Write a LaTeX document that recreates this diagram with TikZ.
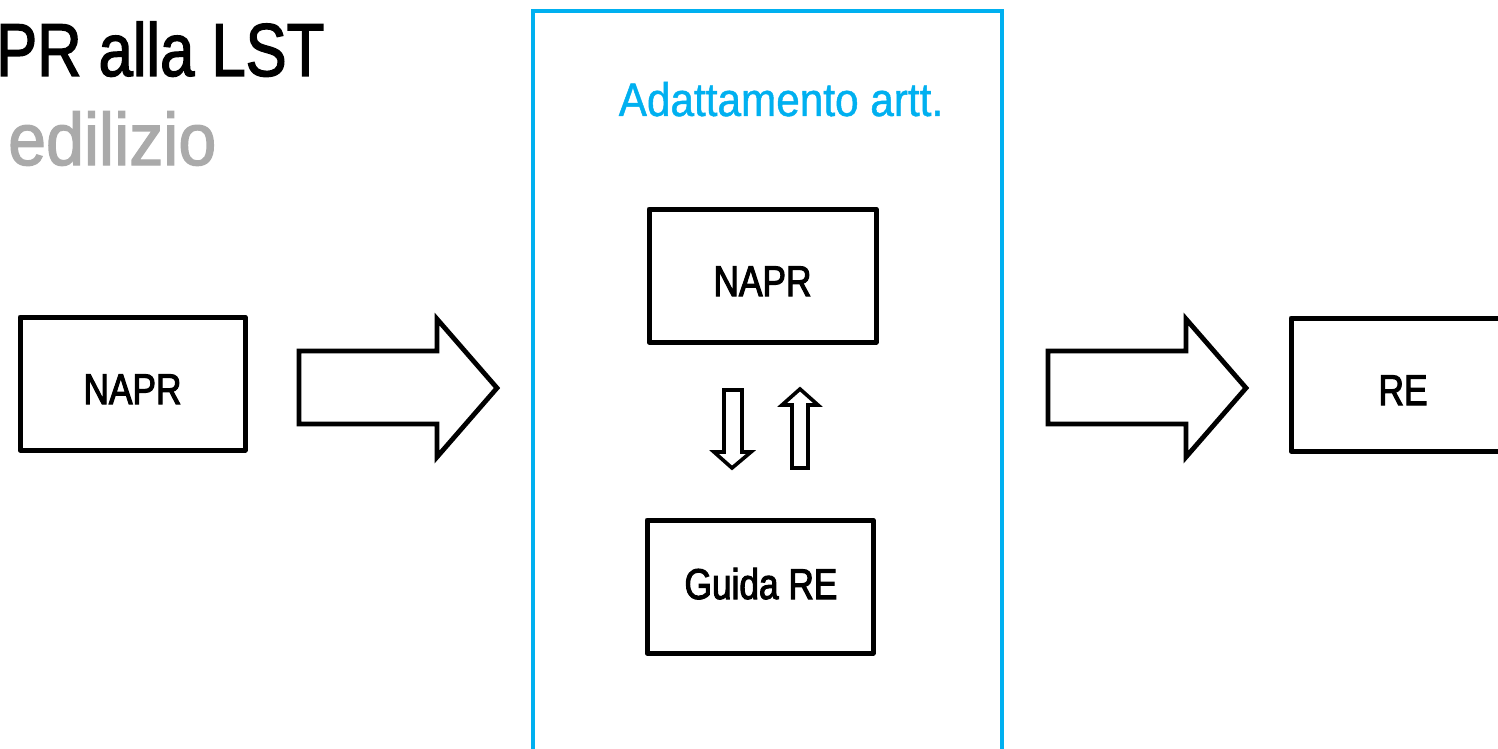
\documentclass[tikz,border=0pt]{standalone}
\usepackage{fontspec}
\newfontfamily\narrowfont[FakeStretch=0.82,FakeBold=2.5]{Liberation Sans}
\newfontfamily\titlefont[FakeStretch=0.82,FakeBold=1.8]{Liberation Sans}
\newfontfamily\narrowfontb[FakeStretch=0.9,FakeBold=1]{Liberation Sans}
\newfontfamily\narrowfontc[FakeStretch=0.92,FakeBold=1.8]{Liberation Sans}
\definecolor{skyblue}{HTML}{00B0F0}
\definecolor{titlegray}{HTML}{AAAAAA}
\tikzset{
  blockbox/.style={draw=black, line width=5pt, line join=round, minimum width=225pt, minimum height=133pt, inner sep=0pt},
  boxtext/.style={anchor=base, inner sep=0pt, font=\narrowfont\fontsize{43}{50}\selectfont},
  blockarrow/.style={draw=black, line width=4.8pt, line join=miter, fill=white},
  thinarrow/.style={draw=black, line width=3.6pt, line join=miter, fill=white},
}
\begin{document}
\begin{tikzpicture}[x=1pt,y=-1pt]
\useasboundingbox (0,0) rectangle (1498,749);
\clip (0,0) rectangle (1498,749);
\fill[white] (0,0) rectangle (1498,749);
% title
\node[anchor=base west, inner sep=0pt, font=\titlefont\fontsize{75}{90}\selectfont] (title) at (-4,76) {PR alla LST};
\node[anchor=base west, inner sep=0pt, text=titlegray, font=\narrowfontc\fontsize{74}{90}\selectfont] (subtitle) at (8,165) {edilizio};
% blue frame
\draw[skyblue, line width=3.8pt] (533,11) rectangle (1002,770);
\node[anchor=base, inner sep=0pt, text=skyblue, font=\narrowfontb\fontsize{47}{56}\selectfont] (adatt) at (781,116) {Adattamento artt.};
% boxes
\node[blockbox] (napr1) at (132.5,383.5) {};
\node[boxtext] (napr1t) at (132.5,404) {NAPR};
\node[blockbox, minimum width=227pt] (napr2) at (762.5,275.5) {};
\node[boxtext] (napr2t) at (762.5,296) {NAPR};
\node[blockbox, minimum width=226pt] (guida) at (760,586.5) {};
\node[boxtext] (guidat) at (761,599) {Guida RE};
\node[blockbox, minimum width=226pt] (re) at (1404,384.5) {};
\node[boxtext] (ret) at (1403,405) {RE};
% big block arrows
\draw[blockarrow] (299,351) -- (437,351) -- (437,319) -- (497,388) -- (437,457) -- (437,424) -- (299,424) -- cycle;
\draw[blockarrow] (1048,351) -- (1186,351) -- (1186,319) -- (1246,388) -- (1186,457) -- (1186,424) -- (1048,424) -- cycle;
% small arrows
\draw[thinarrow] (724,390) -- (742,390) -- (742,452) -- (751,452) -- (732,468) -- (714,452) -- (724,452) -- cycle;
\draw[thinarrow] (792,468) -- (808,468) -- (808,405) -- (818,405) -- (800,389) -- (782,405) -- (792,405) -- cycle;
\end{tikzpicture}
\end{document}
